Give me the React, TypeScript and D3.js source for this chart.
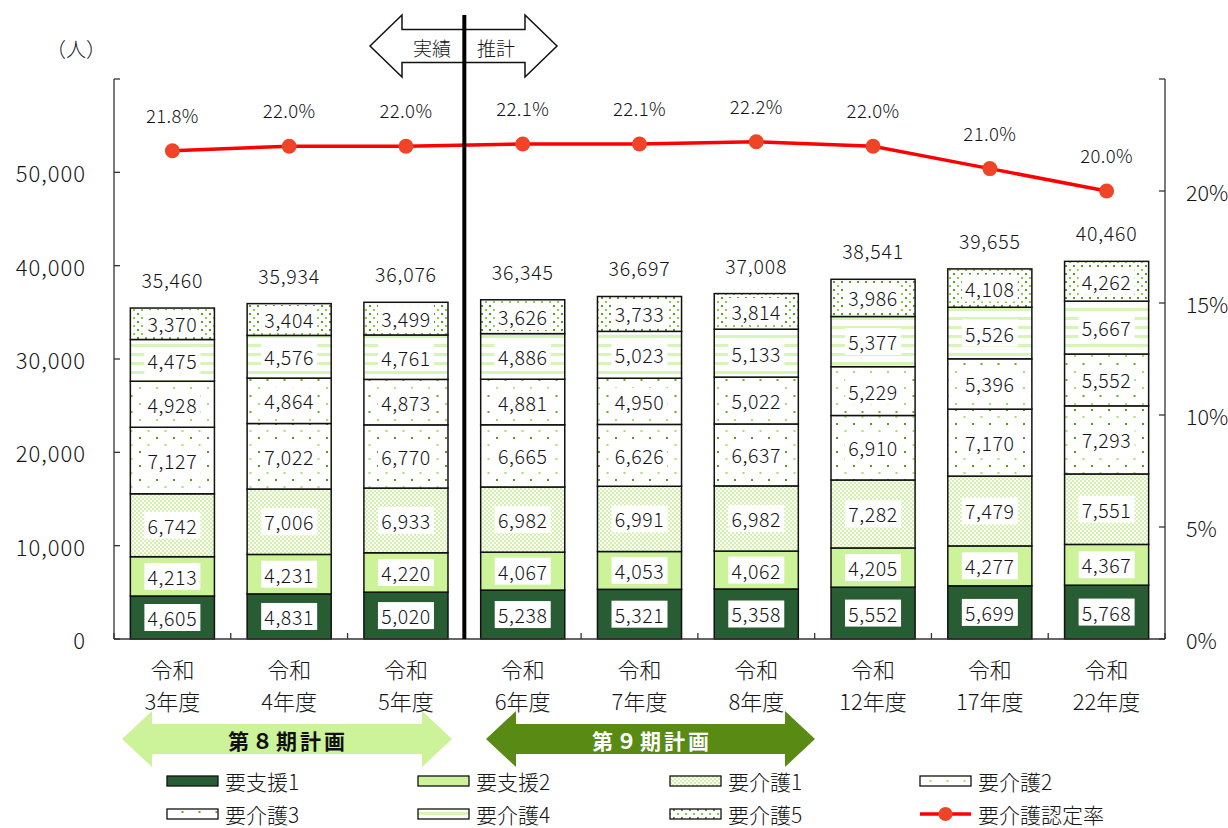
import React from 'react';
import * as d3 from 'd3';

const eraLabels = ['令和', '令和', '令和', '令和', '令和', '令和', '令和', '令和', '令和'];
const yearLabels = ['3年度', '4年度', '5年度', '6年度', '7年度', '8年度', '12年度', '17年度', '22年度'];
const seriesNames = ['要支援1', '要支援2', '要介護1', '要介護2', '要介護3', '要介護4', '要介護5'];
const shien1 = [4605, 4831, 5020, 5238, 5321, 5358, 5552, 5699, 5768];
const shien2 = [4213, 4231, 4220, 4067, 4053, 4062, 4205, 4277, 4367];
const kaigo1 = [6742, 7006, 6933, 6982, 6991, 6982, 7282, 7479, 7551];
const kaigo2 = [7127, 7022, 6770, 6665, 6626, 6637, 6910, 7170, 7293];
const kaigo3 = [4928, 4864, 4873, 4881, 4950, 5022, 5229, 5396, 5552];
const kaigo4 = [4475, 4576, 4761, 4886, 5023, 5133, 5377, 5526, 5667];
const kaigo5 = [3370, 3404, 3499, 3626, 3733, 3814, 3986, 4108, 4262];
const totals = [35460, 35934, 36076, 36345, 36697, 37008, 38541, 39655, 40460];
const rates = [21.8, 22.0, 22.0, 22.1, 22.1, 22.2, 22.0, 21.0, 20.0];
const rateName = '要介護認定率';
const leftTicks = [0, 10000, 20000, 30000, 40000, 50000, 60000];
const rightTicks = [0, 5, 10, 15, 20, 25];
const unitLabel = '（人）';
const periodLabels = ['実績', '推計'];
const planLabels = ['第８期計画', '第９期計画'];

const seriesValues = [shien1, shien2, kaigo1, kaigo2, kaigo3, kaigo4, kaigo5];
const fills = ['#285c32', '#ccf29a', 'url(#pK1)', 'url(#pK2)', 'url(#pK3)', 'url(#pK4)', 'url(#pK5)'];

const FONT = "'Noto Sans CJK JP', 'Noto Sans', sans-serif";

export default function App() {
  const W = 1228, H = 828;
  const left = 114, right = 1165, top = 79, bottom = 639;
  const x = d3.scaleBand<string>().domain(yearLabels).range([left, right]).paddingInner(0.28).paddingOuter(0.14);
  const y = d3.scaleLinear().domain([0, 60000]).range([bottom, top]);
  const yR = d3.scaleLinear().domain([0, 25]).range([bottom, top]);
  const rows = yearLabels.map((k, i) => {
    const r: any = { key: k };
    seriesNames.forEach((s, j) => { r[s] = seriesValues[j][i]; });
    return r;
  });
  const stacked = d3.stack<any>().keys(seriesNames)(rows);
  const bw = x.bandwidth();
  const cx = (k: string) => (x(k) as number) + bw / 2;
  const line = d3.line<number>().x((_, i) => cx(yearLabels[i])).y(d => yR(d));
  const step = x.step();
  const boundaries = d3.range(yearLabels.length + 1).map(i => left + i * step);
  const divX = boundaries[3];

  const legendCols = [167, 418, 670, 920];
  const legendRows = [781, 814];
  const legendItems = [...seriesNames.map((s, i) => ({ name: s, fill: fills[i], line: false })), { name: rateName, fill: '', line: true }];

  const dblArrow = (x0: number, x1: number, yc: number, hh: number, sh: number, hw: number) =>
    `M${x0},${yc} L${x0 + hw},${yc - hh} L${x0 + hw},${yc - sh} L${x1 - hw},${yc - sh} L${x1 - hw},${yc - hh} L${x1},${yc} L${x1 - hw},${yc + hh} L${x1 - hw},${yc + sh} L${x0 + hw},${yc + sh} L${x0 + hw},${yc + hh} Z`;

  const LW = 300;
  const TC = '#151515';

  return (
    <svg width={W} height={H} style={{ position: 'absolute', left: 0, top: 0, display: 'block', background: '#fff' }} fontFamily={FONT}>
      <defs>
        <pattern id="pK1" width="4" height="4" patternUnits="userSpaceOnUse">
          <rect width="4" height="4" fill="#fff" />
          <rect x="0" y="0" width="2" height="2" fill="#d2f2aa" />
          <rect x="2" y="2" width="2" height="2" fill="#d2f2aa" />
        </pattern>
        <pattern id="pK2" width="17" height="14" patternUnits="userSpaceOnUse">
          <rect width="17" height="14" fill="#fff" />
          <rect x="3" y="3" width="2" height="2" fill="#5a9a1e" />
          <rect x="11.5" y="10" width="2" height="2" fill="#a6e06a" />
        </pattern>
        <pattern id="pK3" width="17" height="16" patternUnits="userSpaceOnUse">
          <rect width="17" height="16" fill="#fff" />
          <rect x="3" y="3" width="2" height="2" fill="#a6e06a" />
          <rect x="11.5" y="11" width="2" height="2" fill="#6aaa2a" />
        </pattern>
        <pattern id="pK4" width="10" height="9" patternUnits="userSpaceOnUse">
          <rect width="10" height="9" fill="#fff" />
          <rect x="0" y="2" width="10" height="3" fill="#d8f5b8" />
        </pattern>
        <pattern id="pK5" width="8" height="8" patternUnits="userSpaceOnUse">
          <rect width="8" height="8" fill="#fff" />
          <rect x="1" y="1" width="2" height="2" fill="#5f9a22" />
          <rect x="5" y="5" width="2" height="2" fill="#8cc84a" />
        </pattern>
      </defs>

      {/* bars */}
      {stacked.map((layer, li) => (
        <g key={layer.key}>
          {layer.map((d, i) => (
            <rect key={i} x={x(yearLabels[i])} y={y(d[1])} width={bw} height={y(d[0]) - y(d[1])}
              fill={fills[li]} stroke="#111" strokeWidth={1.5} />
          ))}
        </g>
      ))}
      {/* segment labels */}
      {stacked.map((layer, li) => (
        <g key={'l' + layer.key}>
          {layer.map((d, i) => {
            const yc = (y(d[0]) + y(d[1])) / 2;
            return (
              <g key={i}>
                <rect x={cx(yearLabels[i]) - 28} y={yc - 13.5} width={56} height={27} fill="#fff" />
                <text x={cx(yearLabels[i])} y={yc} textAnchor="middle" dominantBaseline="central" fontSize={19.5} fontWeight={LW} letterSpacing={0.6} fill={TC}>
                  {d3.format(',')(seriesValues[li][i])}
                </text>
              </g>
            );
          })}
        </g>
      ))}
      {/* totals */}
      {totals.map((t, i) => (
        <text key={i} x={cx(yearLabels[i])} y={y(t) - 20} textAnchor="middle" fontSize={19.5} fontWeight={LW} letterSpacing={0.8} fill={TC}>
          {d3.format(',')(t)}
        </text>
      ))}

      {/* axes */}
      <g stroke="#333" strokeWidth={1.3}>
        <line x1={left} x2={left} y1={top} y2={bottom} />
        <line x1={right} x2={right} y1={top} y2={bottom} />
        <line x1={left} x2={right} y1={bottom} y2={bottom} />
        {leftTicks.map(t => <line key={'lt' + t} x1={left} x2={left + 6} y1={y(t)} y2={y(t)} />)}
        {rightTicks.map(t => <line key={'rt' + t} x1={right - 6} x2={right} y1={yR(t)} y2={yR(t)} />)}
        {boundaries.map((b, i) => <line key={'bt' + i} x1={b} x2={b} y1={bottom} y2={bottom - 6} />)}
      </g>
      {leftTicks.filter(t => t < 60000).map(t => (
        <text key={'ll' + t} x={86} y={y(t)} textAnchor="end" dominantBaseline="central" fontSize={22} fontWeight={LW} letterSpacing={1} fill={TC}>
          {d3.format(',')(t)}
        </text>
      ))}
      {rightTicks.filter(t => t < 25).map(t => (
        <text key={'rl' + t} x={1186} y={yR(t)} textAnchor="start" dominantBaseline="central" fontSize={21.5} fontWeight={LW} fill={TC}>
          {t + '%'}
        </text>
      ))}
      <text x={76} y={48} textAnchor="middle" dominantBaseline="central" fontSize={20} fontWeight={LW} fill={TC}>{unitLabel}</text>

      {/* x labels */}
      {yearLabels.map((k, i) => (
        <g key={'x' + k}>
          <text x={cx(k)} y={668} textAnchor="middle" dominantBaseline="central" fontSize={22} fontWeight={LW} fill={TC}>{eraLabels[i]}</text>
          <text x={cx(k)} y={700} textAnchor="middle" dominantBaseline="central" fontSize={22} fontWeight={LW} fill={TC}>{k}</text>
        </g>
      ))}

      {/* rate line */}
      <path d={line(rates) || ''} fill="none" stroke="#ff0000" strokeWidth={3.5} />
      {rates.map((r, i) => (
        <g key={'r' + i}>
          <circle cx={cx(yearLabels[i])} cy={yR(r)} r={7.5} fill="#f04428" />
          <text x={cx(yearLabels[i])} y={yR(r) - 28} textAnchor="middle" fontSize={18.5} fontWeight={LW} letterSpacing={0.4} fill={TC}>
            {r.toFixed(1) + '%'}
          </text>
        </g>
      ))}

      {/* top arrow */}
      <path d={dblArrow(370, 557, 46, 31, 16.5, 32)} fill="#fff" stroke="#111" strokeWidth={1.5} />
      <text x={432} y={47} textAnchor="middle" dominantBaseline="central" fontSize={19} fontWeight={LW} fill={TC}>{periodLabels[0]}</text>
      <text x={496} y={47} textAnchor="middle" dominantBaseline="central" fontSize={19} fontWeight={LW} fill={TC}>{periodLabels[1]}</text>
      <line x1={divX} x2={divX} y1={15} y2={bottom} stroke="#000" strokeWidth={4} />

      {/* bottom arrows */}
      <path d={dblArrow(122, 452, 739, 28, 15, 30)} fill="#ccf29a" />
      <text x={288} y={740} textAnchor="middle" dominantBaseline="central" fontSize={21} fontWeight="bold" letterSpacing={3} fill="#111">{planLabels[0]}</text>
      <path d={dblArrow(486, 815, 739, 28, 15, 30)} fill="#588a14" />
      <text x={652} y={740} textAnchor="middle" dominantBaseline="central" fontSize={21} fontWeight="bold" letterSpacing={3} fill="#fff">{planLabels[1]}</text>

      {/* legend */}
      {legendItems.map((it, i) => {
        const lx = legendCols[i % 4];
        const ly = legendRows[Math.floor(i / 4)];
        return (
          <g key={'lg' + i}>
            {it.line ? (
              <g>
                <line x1={lx} x2={lx + 51} y1={ly} y2={ly} stroke="#ff0000" strokeWidth={3.5} />
                <circle cx={lx + 25.5} cy={ly} r={7} fill="#f04428" />
              </g>
            ) : (
              <rect x={lx} y={ly - 5} width={51} height={10} fill={it.fill} stroke="#111" strokeWidth={1.3} />
            )}
            <text x={lx + 58} y={ly} dominantBaseline="central" fontSize={21} fontWeight={LW} fill={TC}>{it.name}</text>
          </g>
        );
      })}
    </svg>
  );
}
